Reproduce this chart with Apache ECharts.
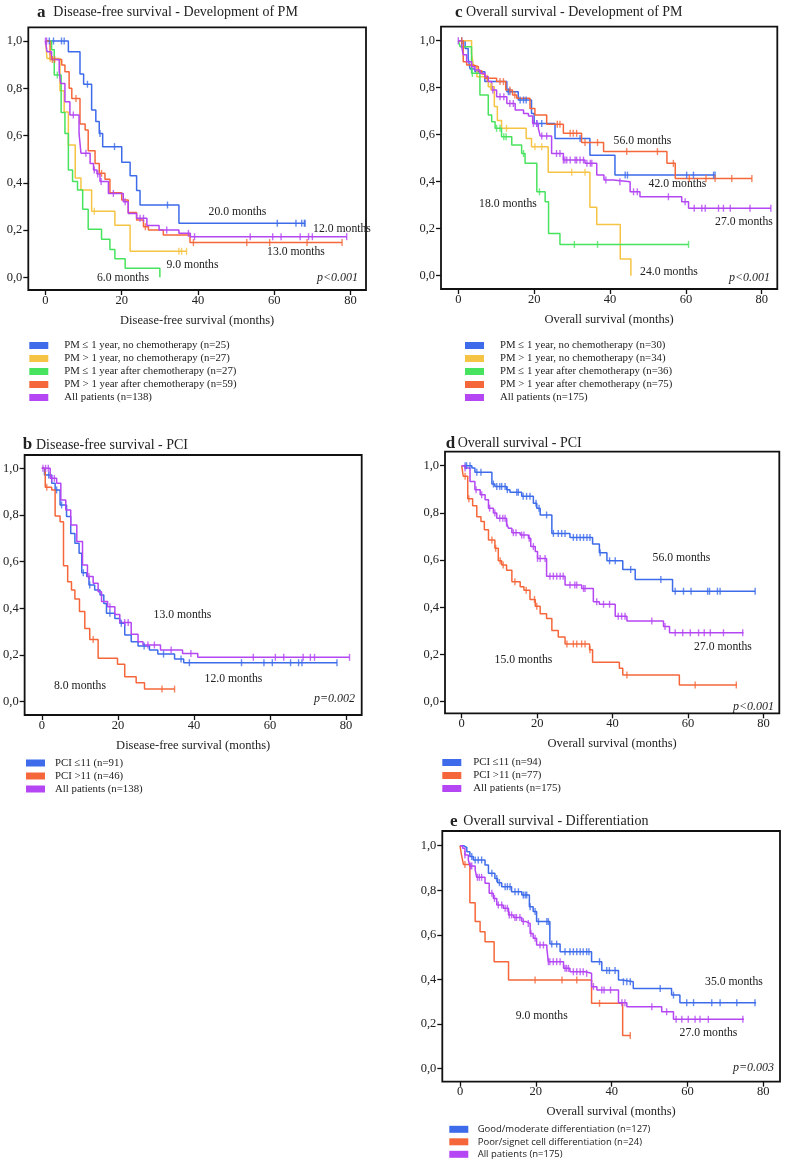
<!DOCTYPE html>
<html><head><meta charset="utf-8">
<script src="https://cdn.jsdelivr.net/npm/echarts@6/dist/echarts.min.js"></script>
<style>html,body{margin:0;padding:0;background:#fff}#c{width:798px;height:1165px}</style>
</head><body><div id="c"></div>
<script>
const xTicks = [0, 20, 40, 60, 80];
const yTicks = [0, 0.2, 0.4, 0.6, 0.8, 1.0];

// ---------- Panel a: Disease-free survival - Development of PM ----------
const aNames = ['PM \u2264 1 year, no chemotherapy (n=25)', 'PM > 1 year, no chemotherapy (n=27)', 'PM \u2264 1 year after chemotherapy (n=27)', 'PM > 1 year after chemotherapy (n=59)', 'All patients (n=138)'];
const aBlue = [[0,1],[6.0,0.955],[9.05,0.86],[10.0,0.817],[12.1,0.708],[13.2,0.659],[14.1,0.609],[15.0,0.553],[20.0,0.487],[22.2,0.43],[23.9,0.367],[24.8,0.306],[35.0,0.229],[68.1,0.229]];
const aBlueCens = [1.0,2.1,4.2,4.9,11.0,14.3,18.1,32.0,60.8,65.7,67.2,67.9,68.1];
const aYellow = [[0,1],[0.4,0.926],[3.8,0.79],[4.9,0.70],[6.0,0.56],[7.8,0.42],[9.3,0.37],[12.1,0.28],[18.2,0.22],[22.2,0.11],[37.0,0.11]];
const aYellowCens = [1.2,12.8,35.0,35.7,37.0];
const aGreen = [[0,1],[1.6,0.963],[2.3,0.856],[4.1,0.697],[5.1,0.609],[6.0,0.454],[7.1,0.405],[8.4,0.37],[9.75,0.288],[11.2,0.203],[14.7,0.161],[16.9,0.118],[18.2,0.079],[20.9,0.038],[30.0,0]];
const aGreenCens = [3.1];
const aOrange = [[0,1],[1.2,0.922],[4.25,0.898],[5.1,0.87],[6.2,0.80],[6.9,0.757],[9.05,0.649],[10.4,0.623],[11.2,0.536],[13.0,0.482],[14.1,0.44],[15.6,0.415],[16.9,0.358],[20.0,0.327],[21.7,0.274],[23.9,0.243],[25.7,0.214],[27.0,0.20],[30.9,0.179],[37.9,0.147],[77.8,0.147]];
const aOrangeCens = [1.8,2.4,8.0,14.7,26.2,38.8,52.8,58.8,68.6,77.8];
const aPurple = [[0,1],[0.4,0.955],[1.6,0.922],[3.6,0.87],[4.0,0.82],[5.1,0.743],[6.4,0.687],[8.8,0.609],[9.3,0.525],[11.7,0.482],[12.6,0.454],[13.5,0.437],[14.3,0.405],[16.5,0.355],[20.4,0.32],[21.7,0.27],[23.9,0.25],[26.6,0.219],[29.8,0.2],[35.0,0.186],[38.0,0.172],[79.0,0.172]];
const aPurpleCens = [0,0.3,7.3,10.6,12.8,13.7,14.6,17.8,20.9,24.8,25.7,31.8,37.5,39.1,53.7,59.6,61.8,66.8,69.0,70.0,79.0];

// ---------- Panel b: Disease-free survival - PCI ----------
const bNames = ['PCI \u226411 (n=91)', 'PCI >11 (n=46)', 'All patients (n=138)'];
const bBlue = [[0,1],[0.7,0.971],[2.6,0.936],[3.5,0.907],[4.8,0.843],[6.5,0.793],[7.6,0.721],[8.7,0.679],[9.8,0.636],[10.5,0.553],[11.8,0.536],[12.4,0.5],[13.9,0.479],[15.3,0.457],[16.3,0.421],[17.0,0.379],[19.2,0.357],[20.5,0.336],[21.8,0.286],[23.5,0.257],[25.3,0.239],[28.3,0.221],[30.5,0.204],[34.9,0.183],[37.3,0.167],[77.6,0.167]];
const bBlueCens = [1.8,3.9,5.2,10.9,12.6,17.9,20.9,26.9,32.0,36.6,38.8,52.5,58.4,60.6,65.4,67.5,68.4,77.6];
const bOrange = [[0,1],[0.9,0.919],[2.6,0.907],[3.5,0.796],[4.8,0.771],[5.7,0.583],[6.8,0.514],[7.8,0.479],[8.7,0.44],[9.9,0.386],[11.3,0.314],[12.6,0.267],[14.8,0.186],[19.9,0.16],[21.8,0.107],[24.8,0.081],[27.0,0.054],[34.9,0.054]];
const bOrangeCens = [1.3,13.5,31.6,34.9];
const bPurple = [[0,1],[2.2,0.957],[3.9,0.936],[5.0,0.864],[6.3,0.821],[7.6,0.757],[9.2,0.686],[10.7,0.586],[12.0,0.536],[13.5,0.507],[14.8,0.471],[15.7,0.429],[17.3,0.407],[19.2,0.374],[20.5,0.339],[23.5,0.289],[25.3,0.257],[26.6,0.243],[31.2,0.221],[37.0,0.207],[41.0,0.19],[80.9,0.19]];
const bPurpleCens = [0.3,1.0,1.7,2.6,3.3,12.4,17.9,21.8,22.7,27.9,29.6,34.0,39.2,55.6,61.4,63.6,68.7,70.6,71.7,80.9];

// ---------- Panel c: Overall survival - Development of PM ----------
const cNames = ['PM \u2264 1 year, no chemotherapy (n=30)', 'PM > 1 year, no chemotherapy (n=34)', 'PM \u2264 1 year after chemotherapy (n=36)', 'PM > 1 year after chemotherapy (n=75)', 'All patients (n=175)'];
const cBlue = [[0,1],[1.8,0.967],[2.6,0.925],[3.1,0.88],[4.4,0.868],[7.0,0.826],[12.8,0.783],[15.8,0.748],[19.3,0.69],[20.0,0.648],[25.5,0.584],[34.7,0.513],[41.3,0.428],[67.7,0.428]];
const cBlueCens = [0.9,13.2,13.6,16.3,17.2,17.9,20.7,22.0,32.1,44.0,44.6,60.2,62.0,67.3,67.7];
const cYellow = [[0,1],[3.5,0.946],[4.0,0.89],[4.9,0.847],[7.9,0.804],[9.5,0.72],[10.3,0.66],[11.4,0.627],[17.9,0.584],[19.3,0.549],[23.7,0.44],[34.7,0.291],[36.5,0.218],[42.7,0.071],[45.5,0]];
const cYellowCens = [8.5,8.8,12.7,20.2,22.0,29.9,33.4];
const cGreen = [[0,1],[0.5,0.974],[3.5,0.861],[5.7,0.769],[7.9,0.684],[8.8,0.655],[9.7,0.627],[11.4,0.591],[14.1,0.556],[16.7,0.52],[17.6,0.478],[20.7,0.357],[22.9,0.315],[23.8,0.18],[26.8,0.133],[60.7,0.133]];
const cGreenCens = [3.7,10.1,11.0,12.0,12.6,17.2,21.4,30.6,36.7,60.7];
const cOrange = [[0,1],[1.3,0.91],[2.2,0.897],[4.0,0.889],[5.3,0.872],[6.2,0.858],[7.0,0.84],[10.1,0.826],[12.5,0.79],[14.3,0.769],[15.4,0.755],[18.9,0.712],[20.2,0.684],[23.3,0.645],[27.7,0.606],[32.5,0.567],[38.3,0.528],[55.0,0.478],[57.2,0.414],[77.4,0.414]];
const cOrangeCens = [0.9,7.6,11.0,11.9,13.6,14.9,26.1,26.8,29.5,30.3,31.2,33.4,36.7,44.4,52.5,56.7,60.9,65.3,67.7,72.1,77.4];
const cPurple = [[0,1],[0.9,0.974],[1.3,0.94],[2.2,0.91],[3.5,0.889],[4.4,0.875],[5.7,0.861],[7.0,0.847],[7.9,0.826],[8.8,0.79],[10.1,0.762],[12.8,0.733],[15.0,0.705],[17.2,0.69],[18.5,0.68],[19.6,0.648],[21.1,0.627],[21.6,0.594],[24.6,0.52],[27.7,0.492],[33.4,0.478],[36.5,0.428],[38.4,0.407],[40.9,0.4],[45.3,0.357],[47.9,0.336],[58.9,0.315],[60.7,0.287],[82.4,0.287]];
const cPurpleCens = [0,9.1,11.0,12.0,13.6,14.5,19.8,20.7,22.0,23.3,25.9,26.8,27.7,28.1,28.6,29.5,30.8,31.2,32.1,33.0,33.9,34.8,35.2,38.9,42.6,46.2,47.2,55.4,59.8,62.2,64.2,65.1,68.6,69.9,71.7,76.9,82.4];

// ---------- Panel d: Overall survival - PCI ----------
const dNames = ['PCI \u226411 (n=94)', 'PCI >11 (n=77)', 'All patients (n=175)'];
const dBlue = [[0,1],[2.7,0.99],[3.5,0.972],[8.0,0.922],[8.8,0.912],[11.9,0.898],[12.8,0.887],[15.9,0.87],[19.0,0.841],[19.9,0.82],[20.8,0.791],[23.9,0.713],[28.7,0.696],[34.7,0.668],[36.5,0.631],[38.5,0.597],[42.7,0.56],[46.0,0.518],[55.9,0.468],[77.8,0.468]];
const dBlueCens = [0.9,1.3,2.2,4.0,5.1,8.4,9.3,10.1,10.6,11.5,12.1,14.6,15.0,16.3,17.2,18.1,19.7,20.5,22.5,24.3,25.6,26.5,27.4,29.6,30.5,31.4,32.3,33.2,34.0,36.7,39.2,40.7,44.8,52.8,56.6,58.8,60.8,65.2,65.7,67.8,68.5,77.8];
const dOrange = [[0,1],[0.4,0.955],[1.6,0.86],[2.9,0.83],[4.0,0.784],[5.1,0.763],[6.0,0.728],[7.1,0.685],[8.8,0.65],[9.7,0.597],[10.6,0.579],[11.9,0.557],[13.3,0.508],[15.5,0.487],[16.5,0.472],[18.1,0.433],[19.5,0.404],[20.8,0.373],[22.5,0.352],[23.9,0.302],[25.6,0.274],[27.4,0.245],[33.9,0.22],[34.7,0.167],[41.8,0.142],[42.7,0.113],[57.7,0.071],[73.0,0.071]];
const dOrangeCens = [0.9,1.9,8.0,9.0,10.2,11.0,14.1,17.1,19.3,19.9,27.9,29.6,30.5,31.8,32.7,34.0,43.8,61.9,72.8];
const dPurple = [[0,1],[0.9,0.99],[2.2,0.933],[3.5,0.898],[4.9,0.877],[6.2,0.855],[7.1,0.82],[8.4,0.799],[9.3,0.777],[11.9,0.756],[12.4,0.735],[13.3,0.716],[15.5,0.706],[17.7,0.692],[18.3,0.657],[19.5,0.636],[20.1,0.607],[22.5,0.532],[27.4,0.494],[31.8,0.48],[34.9,0.423],[36.5,0.413],[40.7,0.362],[43.8,0.342],[53.5,0.319],[55.1,0.292],[74.7,0.292]];
const dPurpleCens = [0.9,3.8,5.3,7.4,8.8,10.1,10.9,11.5,11.9,13.7,14.4,15.9,16.5,17.9,19.0,20.1,20.8,22.1,23.4,24.3,25.2,26.1,26.9,28.7,30.0,30.5,32.3,32.7,35.8,37.6,39.2,41.5,42.4,43.3,50.4,53.9,56.6,58.6,60.6,62.8,64.3,65.9,69.4,74.5];

// ---------- Panel e: Overall survival - Differentiation ----------
const eNames = ['Good/moderate differentiation (n=127)', 'Poor/signet cell differentiation (n=24)', 'All patients (n=175)'];
const eBlue = [[0,1],[0.9,0.992],[1.8,0.973],[2.6,0.951],[3.5,0.936],[6.6,0.913],[7.5,0.876],[9.2,0.853],[9.9,0.834],[11.0,0.816],[13.6,0.793],[16.3,0.778],[18.3,0.726],[19.3,0.704],[20.2,0.659],[23.7,0.558],[26.4,0.524],[34.7,0.479],[37.4,0.439],[41.8,0.397],[42.7,0.389],[45.7,0.359],[55.8,0.329],[58.0,0.295],[78.1,0.295]];
const eBlueCens = [3.1,4.0,4.8,5.7,8.4,9.7,10.4,11.9,12.5,13.2,14.5,15.4,16.7,17.2,17.6,18.5,19.8,20.7,22.9,23.3,24.2,25.5,27.7,29.0,29.9,30.8,31.7,32.5,33.4,34.0,36.8,38.7,39.4,40.9,43.1,44.0,44.9,52.8,56.3,59.8,61.6,66.4,68.6,73.0,77.8];
const eOrange = [[0,1],[0.4,0.958],[0.9,0.916],[2.6,0.744],[4.0,0.659],[5.3,0.614],[6.6,0.569],[9.0,0.479],[12.8,0.397],[34.7,0.292],[42.9,0.147],[45.0,0.147]];
const eOrangeCens = [1.3,19.8,26.9,30.8,36.8,44.9];
const ePurple = [[0,1],[0.7,0.988],[1.3,0.958],[2.2,0.936],[2.6,0.909],[4.0,0.891],[4.4,0.858],[6.6,0.831],[7.7,0.786],[8.8,0.763],[9.7,0.734],[11.4,0.719],[12.8,0.689],[14.1,0.678],[16.3,0.659],[17.4,0.651],[18.5,0.606],[19.3,0.584],[20.2,0.554],[22.9,0.539],[23.3,0.479],[27.3,0.449],[29.0,0.434],[33.0,0.427],[34.7,0.367],[36.1,0.352],[41.8,0.295],[44.0,0.277],[53.2,0.254],[56.3,0.22],[74.9,0.22]];
const ePurpleCens = [1.3,2.8,3.1,4.6,5.1,5.7,8.4,9.1,10.1,11.0,11.9,12.5,13.0,13.6,14.5,14.9,15.8,16.7,18.0,18.7,19.8,21.1,22.0,23.3,23.7,24.6,25.5,26.4,27.7,28.1,28.6,29.9,30.8,31.7,32.5,33.4,35.2,37.4,38.0,39.7,42.7,43.5,50.6,54.5,57.0,58.5,60.2,62.0,63.3,65.5,74.6];

// ---------- rendering ----------
const COL = {blue:'#3D6BEA', yellow:'#F6C445', green:'#48E35E', orange:'#F5673A', purple:'#B446F3'};
const SERIF = 'Liberation Serif, Times New Roman, serif';
const SANS = 'Open Sans, Liberation Sans, sans-serif';
const INK = '#222';

function levelAt(curve, t) { let s = curve[0][1]; for (const p of curve) { if (p[0] <= t) s = p[1]; } return s; }
function km(gi, name, color, curve, cens) {
  return [
    {type:'line', name, xAxisIndex:gi, yAxisIndex:gi, step:'end', data:curve, showSymbol:false, symbol:'none',
     color, lineStyle:{color, width:1.5}, itemStyle:{color}, z:2, animation:false},
    {type:'scatter', name:name+' censored', xAxisIndex:gi, yAxisIndex:gi, data:cens.map(t=>[t, levelAt(curve,t)]),
     symbol:'rect', symbolSize:[1.4,7], itemStyle:{color}, z:3, animation:false, silent:true}
  ];
}
const grids = [
  {left:28.3, top:27.3, width:337.7, height:262.7},
  {left:22.7, top:455, width:339, height:260},
  {left:441, top:26.7, width:336.3, height:262.3},
  {left:445, top:451.7, width:334.3, height:261.6},
  {left:442.3, top:831, width:337.7, height:250.7}
].map(g => Object.assign({show:true, borderColor:'#111', borderWidth:1.8, backgroundColor:'transparent'}, g));
const ranges = [
  {x:[-4.51,84.07], y:[-0.0537,1.058], name:'Disease-free survival (months)'},
  {x:[-4.52,84.1], y:[-0.057,1.057], name:'Disease-free survival (months)'},
  {x:[-4.56,84.1], y:[-0.0566,1.0596], name:'Overall survival (months)'},
  {x:[-4.43,84.2], y:[-0.049,1.059], name:'Overall survival (months)'},
  {x:[-4.67,84.4], y:[-0.060,1.066], name:'Overall survival (months)'}
];
const xAxis = ranges.map((r,i)=>({type:'value', gridIndex:i, min:r.x[0], max:r.x[1], position:'bottom',
  axisLine:{show:false, onZero:false}, splitLine:{show:false},
  axisTick:{show:true, customValues:xTicks, length:5, lineStyle:{color:'#111', width:1.3}},
  axisLabel:{customValues:xTicks, margin:4, fontFamily:SERIF, fontSize:12.5, color:INK},
  name:r.name, nameLocation:'middle', nameGap:24, nameTextStyle:{fontFamily:SERIF, fontSize:12.5, color:INK}}));
const yAxis = ranges.map((r,i)=>({type:'value', gridIndex:i, min:r.y[0], max:r.y[1], position:'left',
  axisLine:{show:false, onZero:false}, splitLine:{show:false},
  axisTick:{show:true, customValues:yTicks, length:5, lineStyle:{color:'#111', width:1.3}},
  axisLabel:{customValues:yTicks, margin:6, fontFamily:SERIF, fontSize:12.5, color:INK,
    formatter:v=>Number(v).toFixed(1).replace('.', ',')}}));

const series = [].concat(
  km(0,aNames[0],COL.blue,aBlue,aBlueCens), km(0,aNames[1],COL.yellow,aYellow,aYellowCens),
  km(0,aNames[2],COL.green,aGreen,aGreenCens), km(0,aNames[3],COL.orange,aOrange,aOrangeCens),
  km(0,aNames[4],COL.purple,aPurple,aPurpleCens),
  km(1,bNames[0],COL.blue,bBlue,bBlueCens), km(1,bNames[1],COL.orange,bOrange,bOrangeCens),
  km(1,bNames[2],COL.purple,bPurple,bPurpleCens),
  km(2,cNames[0],COL.blue,cBlue,cBlueCens), km(2,cNames[1],COL.yellow,cYellow,cYellowCens),
  km(2,cNames[2],COL.green,cGreen,cGreenCens), km(2,cNames[3],COL.orange,cOrange,cOrangeCens),
  km(2,cNames[4],COL.purple,cPurple,cPurpleCens),
  km(3,dNames[0],COL.blue,dBlue,dBlueCens), km(3,dNames[1],COL.orange,dOrange,dOrangeCens),
  km(3,dNames[2],COL.purple,dPurple,dPurpleCens),
  km(4,eNames[0],COL.blue,eBlue,eBlueCens), km(4,eNames[1],COL.orange,eOrange,eOrangeCens),
  km(4,eNames[2],COL.purple,ePurple,ePurpleCens)
);

function legend(names, left, top, font, size, gap, pad) {
  return {data:names.map(n=>({name:n, icon:'rect'})), orient:'vertical', left, top, padding:0, itemGap:gap,
    itemWidth:19, itemHeight:7, selectedMode:false,
    formatter:n=>'{t|'+n+'}',
    textStyle:{rich:{t:{fontFamily:font, fontSize:size, padding:[0,0,0,pad], color:INK}}}};
}
const legends = [
  legend(aNames, 29.3, 340, SERIF, 10.8, 2, 11),
  legend(cNames, 465, 340, SERIF, 10.8, 2, 11),
  legend(bNames, 26, 757.5, SERIF, 10.8, 2, 5),
  legend(dNames, 442.3, 757, SERIF, 10.8, 2, 7),
  legend(eNames, 449.3, 1124.3, SANS, 9.5, 2.5, 4.4)
];

function txt(x, y, text, o) {
  o = o || {};
  return {type:'text', x, y, silent:true, style:{text, fontFamily:o.font||SERIF, fontSize:o.size||11.7,
    fontWeight:o.weight||'normal', fontStyle:o.style||'normal', fill:INK, align:o.align||'center', verticalAlign:'middle'}};
}
const graphics = [
  txt(37,12.5,'a',{size:17,weight:'bold',align:'left'}), txt(53.3,12.5,'Disease-free survival - Development of PM',{size:14,align:'left'}),
  txt(455,12.5,'c',{size:17,weight:'bold',align:'left'}), txt(466,12.5,'Overall survival - Development of PM',{size:14,align:'left'}),
  txt(22.7,445,'b',{size:17,weight:'bold',align:'left'}), txt(36,445,'Disease-free survival - PCI',{size:14,align:'left'}),
  txt(445.7,443.5,'d',{size:17,weight:'bold',align:'left'}), txt(457.7,443.5,'Overall survival - PCI',{size:14,align:'left'}),
  txt(450,821.3,'e',{size:17,weight:'bold',align:'left'}), txt(463.3,821.3,'Overall survival - Differentiation',{size:14,align:'left'}),
  txt(237.5,212,'20.0 months'), txt(342,229,'12.0 months'), txt(296,252,'13.0 months'),
  txt(192.5,265,'9.0 months'), txt(123,278,'6.0 months'), txt(358,278,'p<0.001',{align:'right',style:'italic',size:12}),
  txt(642.5,140.7,'56.0 months'), txt(677.5,184,'42.0 months'), txt(508,204,'18.0 months'),
  txt(744,221.7,'27.0 months'), txt(669,271.7,'24.0 months'), txt(770,278,'p<0.001',{align:'right',style:'italic',size:12}),
  txt(182.5,615,'13.0 months'), txt(233.5,679,'12.0 months'), txt(80,686,'8.0 months'),
  txt(355,699,'p=0.002',{align:'right',style:'italic',size:12}),
  txt(681.5,558,'56.0 months'), txt(723,646.7,'27.0 months'), txt(523.5,660,'15.0 months'),
  txt(774,706.7,'p<0.001',{align:'right',style:'italic',size:12}),
  txt(734,981.7,'35.0 months'), txt(541.7,1015.7,'9.0 months'), txt(708.5,1033.3,'27.0 months'),
  txt(774,1068.3,'p=0.003',{align:'right',style:'italic',size:12})
];

const chart = echarts.init(document.getElementById('c'), null, {renderer:'canvas'});
chart.setOption({
  backgroundColor:'#fff', animation:false,
  grid:grids, xAxis, yAxis, series, legend:legends, graphic:graphics
});
</script>
</body></html>
